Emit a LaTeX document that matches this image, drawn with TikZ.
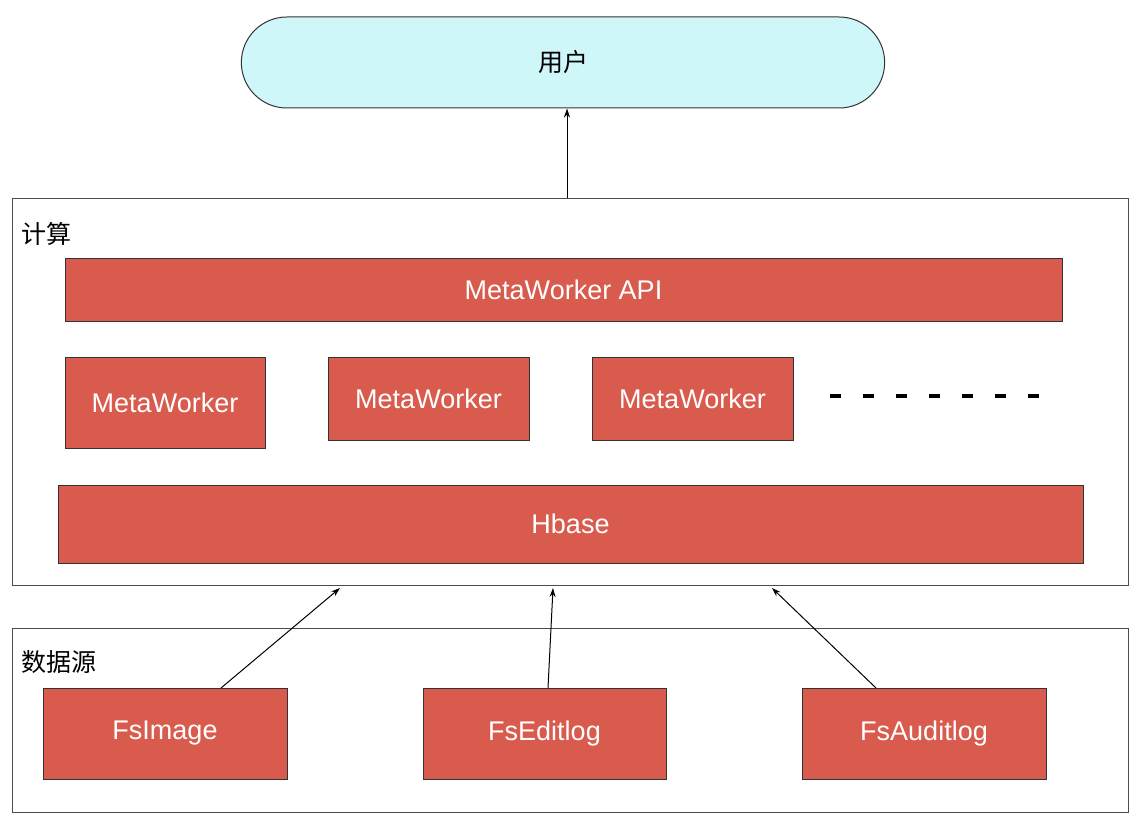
\documentclass[tikz,border=0pt]{standalone}
\usepackage{fontspec}
\setmainfont{Liberation Sans}
\newfontfamily\cjk{Noto Sans CJK SC}
\usetikzlibrary{shapes.misc,arrows.meta}
\definecolor{rbox}{HTML}{D95B4E}
\definecolor{cyanf}{HTML}{CFF6F9}
\begin{document}
\begin{tikzpicture}[x=1pt,y=-1pt,
  rb/.style={draw=black!80,fill=rbox,text=white,font=\fontsize{27}{30}\selectfont,line width=1pt},
  frame/.style={draw=black!70,line width=1pt},
  arr/.style={-{Stealth[length=9pt,width=6pt]},line width=1pt}]
\useasboundingbox (0,0) rectangle (1138,824);
\node[draw=black!80,line width=1pt,fill=cyanf,rounded rectangle,minimum width=650pt,minimum height=91pt,font=\cjk\fontsize{25}{28}\selectfont] (user) at (563,62.5) {用户};
\draw[frame] (12,198) rectangle (1128,585);
\node[anchor=west,font=\cjk\fontsize{25}{28}\selectfont] (calc) at (18,234) {计算};
\draw[rb] (65,258) rectangle node (api) {MetaWorker API} (1062,321);
\draw[rb] (65,357) rectangle node (mw1) {MetaWorker} (265,448);
\draw[rb] (328,357) rectangle node (mw2) {MetaWorker} (529,440);
\draw[rb] (592,357) rectangle node (mw3) {MetaWorker} (793,440);
\coordinate (d1) at (830,396); \coordinate (d2) at (1048,396);
\draw[line width=4pt,dash pattern=on 11pt off 22pt] (d1) -- (d2);
\draw[rb] (58,485) rectangle node (hb) {Hbase} (1083,563);
\draw[frame] (12,628) rectangle (1128,812);
\node[anchor=west,font=\cjk\fontsize{25}{28}\selectfont] (src) at (18,662) {数据源};
\draw[rb] (43,688) rectangle node (f1) {FsImage} (287,779);
\draw[rb] (423,688) rectangle node (f2) {FsEditlog} (666,779);
\draw[rb] (802,688) rectangle node (f3) {FsAuditlog} (1046,779);
\coordinate (t0) at (567,198);
\coordinate (a1) at (221,688); \coordinate (b1) at (340,588);
\coordinate (a2) at (548,688); \coordinate (b2) at (553,588);
\coordinate (a3) at (876,688); \coordinate (b3) at (772,588);
\draw[arr] (t0) -- (t0 |- user.south);
\draw[arr] (a1) -- (b1);
\draw[arr] (a2) -- (b2);
\draw[arr] (a3) -- (b3);
\end{tikzpicture}
\end{document}
